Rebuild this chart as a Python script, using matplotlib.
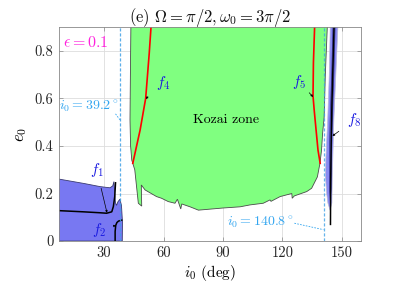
import matplotlib
matplotlib.use("Agg")
import matplotlib.pyplot as plt
import numpy as np

plt.rcParams['mathtext.fontset'] = 'cm'
plt.rcParams['font.family'] = ['cmr10', 'DejaVu Serif']
plt.rcParams['axes.formatter.use_mathtext'] = True

# ---- data ----
# Kozai zone (green) boundary: (i0 deg, e0)
kozai_i = [43.6, 43.3, 43.1, 43.4, 44.0, 45.5, 47.3, 49.0, 48.8, 50.7, 56.5, 59.0, 62.4, 65.8,
           67.0, 68.7, 69.2, 73.4, 77.6, 90.0, 98.6, 103.6, 110.3, 113.7, 114.2, 118.8,
           124.7, 124.9, 126.0, 132.2, 134.7, 137.6, 138.9, 139.7, 140.2, 141.0, 141.6, 142.6, 142.8]
kozai_e = [0.95, 0.70, 0.51, 0.40, 0.34, 0.30, 0.159, 0.147, 0.236, 0.215, 0.187, 0.18, 0.166, 0.159,
           0.176, 0.135, 0.156, 0.144, 0.13, 0.139, 0.144, 0.152, 0.159, 0.173, 0.167, 0.187,
           0.20, 0.18, 0.19, 0.208, 0.222, 0.27, 0.327, 0.383, 0.45, 0.52, 0.70, 0.90, 0.95]

# left libration region (blue)
blueL_i = [7.0, 7.0, 20.0, 28.0, 33.0, 34.4, 35.0, 35.4, 35.8, 36.3, 37.0, 38.0, 38.8, 39.3, 39.2]
blueL_e = [0.0, 0.261, 0.242, 0.229, 0.224, 0.232, 0.25, 0.20, 0.16, 0.15, 0.165, 0.176, 0.15, 0.08, 0.0]

# right libration band (blue)
blueR_i = [144.2, 143.6, 142.8, 141.9, 141.7, 142.3, 142.9, 144.0, 144.9, 145.1, 145.9, 146.9, 148.2]
blueR_e = [0.95, 0.70, 0.51, 0.35, 0.27, 0.20, 0.16, 0.13, 0.16, 0.27, 0.51, 0.70, 0.95]
coreR_i = [145.6, 144.8, 144.0, 143.6, 143.7, 144.1, 144.5, 144.7, 145.1, 145.9, 146.7]
coreR_e = [0.95, 0.70, 0.50, 0.35, 0.22, 0.17, 0.22, 0.35, 0.50, 0.70, 0.95]

# curves
f1_i = [7.0, 19.5, 28.0, 31.3, 33.9, 34.7, 35.4, 35.7, 35.8]
f1_e = [0.128, 0.123, 0.119, 0.117, 0.123, 0.145, 0.187, 0.229, 0.245]
f2_i = [35.6, 35.6, 35.9, 36.5, 37.3, 38.9]
f2_e = [0.0, 0.04, 0.066, 0.078, 0.084, 0.088]
f4_i = [54.0, 53.7, 52.8, 51.0, 48.2, 44.5]
f4_e = [0.95, 0.90, 0.79, 0.60, 0.467, 0.327]
f5_i = [136.4, 136.2, 135.6, 135.4, 136.0, 137.9, 139.0]
f5_e = [0.95, 0.90, 0.75, 0.61, 0.55, 0.383, 0.327]
f8_i = [146.2, 146.0, 145.0, 144.6, 144.3, 144.2]
f8_e = [0.95, 0.90, 0.60, 0.44, 0.25, 0.07]

crit_left = 38.2
crit_right = 140.8

xticks = [30, 60, 90, 120, 150]
yticks = [0, 0.2, 0.4, 0.6, 0.8]
ytick_labels = ['0', '0.2', '0.4', '0.6', '0.8']

# ---- figure ----
fig = plt.figure(figsize=(4.07, 2.88), dpi=100)
ax = fig.add_axes([0.145, 0.163, 0.742, 0.743])

ax.fill(kozai_i, kozai_e, facecolor='#80FF80', edgecolor='#4a4a4a', linewidth=0.6, zorder=2)
ax.fill(blueL_i, blueL_e, facecolor='#7878F2', edgecolor='#3a3a70', linewidth=0.6, zorder=2)
ax.fill(blueR_i, blueR_e, facecolor='#8A8AF2', edgecolor='#b8b8d8', linewidth=0.5, zorder=2)
ax.fill(coreR_i, coreR_e, facecolor='#5C5CE0', edgecolor='#30308a', linewidth=0.5, zorder=2)

ax.plot(f1_i, f1_e, color='black', lw=1.1, zorder=3)
ax.plot(f2_i, f2_e, color='black', lw=1.1, zorder=3)
ax.plot(f8_i, f8_e, color='black', lw=1.1, zorder=3)
ax.plot(f4_i, f4_e, color='red', lw=1.2, zorder=3)
ax.plot(f5_i, f5_e, color='red', lw=1.2, zorder=3)

dcol = '#3FA0E6'
ax.axvline(crit_left, color=dcol, ls=(0, (2.5, 1.5)), lw=0.9, alpha=0.85, zorder=4)
ax.axvline(crit_right, color=dcol, ls=(0, (2.5, 1.5)), lw=0.9, alpha=0.8, zorder=4)

# annotations
ax.text(7.4, 0.57, r'$i_0=39.2^\circ$', color='#33A6F0', fontsize=10, ha='left', va='center', zorder=5)
ax.plot([35.8, 38.0], [0.535, 0.51], color='#33A6F0', lw=0.6, ls=(0, (2, 1.5)), zorder=5)
ax.text(125.5, 0.082, r'$i_0=140.8^\circ$', color='#33A6F0', fontsize=10, ha='right', va='center', zorder=5)
ax.plot([126.0, 140.6], [0.075, 0.048], color='#33A6F0', lw=0.6, ls=(0, (2, 1.5)), zorder=5)

ax.text(9.5, 0.835, r'$\epsilon=0.1$', color='#FF22DD', fontsize=11.5, ha='left', va='center', zorder=5)
ax.text(91.5, 0.51, 'Kozai zone', color='black', fontsize=10, ha='center', va='center', zorder=5)

lab = dict(color='#1a1aE0', fontsize=11, zorder=6, ha='center', va='center')
arr = dict(arrowstyle='-|>', color='black', lw=0.5, mutation_scale=3, shrinkA=5, shrinkB=0)
ax.annotate(r'$f_4$', xy=(51.0, 0.598), xytext=(59.8, 0.665), arrowprops=arr, **lab)
ax.annotate(r'$f_5$', xy=(135.4, 0.606), xytext=(128.5, 0.67), arrowprops=arr, **lab)
ax.annotate(r'$f_8$', xy=(145.2, 0.442), xytext=(156.3, 0.51), arrowprops=arr, **lab)
ax.annotate(r'$f_1$', xy=(31.5, 0.119), xytext=(26.3, 0.30), arrowprops=arr, **lab)
ax.annotate(r'$f_2$', xy=(36.0, 0.066), xytext=(27.5, 0.046), arrowprops=arr, **lab)

ax.set_xlim(7.3, 159.6)
ax.set_ylim(0, 0.9)
ax.set_xticks(xticks)
ax.set_xticklabels([str(t) for t in xticks])
ax.set_yticks(yticks)
ax.set_yticklabels(ytick_labels)
ax.tick_params(direction='in', length=3, width=0.5, colors='#888888', labelcolor='#262626',
               labelsize=10.5, top=True, right=True, pad=4)
ax.grid(True, color='#dddddd', lw=0.6, zorder=0)
ax.set_axisbelow(True)
for s in ax.spines.values():
    s.set_color('#888888')
    s.set_linewidth(0.6)
    s.set_zorder(7)

ax.set_title(r'(e) $\Omega=\pi/2, \omega_0=3\pi/2$', fontsize=12, pad=4, color='#111111')
ax.set_xlabel(r'$i_0$ (deg)', fontsize=11, labelpad=2)
ax.set_ylabel(r'$e_0$', fontsize=12, labelpad=4)

fig.savefig('out.png', dpi=100)
